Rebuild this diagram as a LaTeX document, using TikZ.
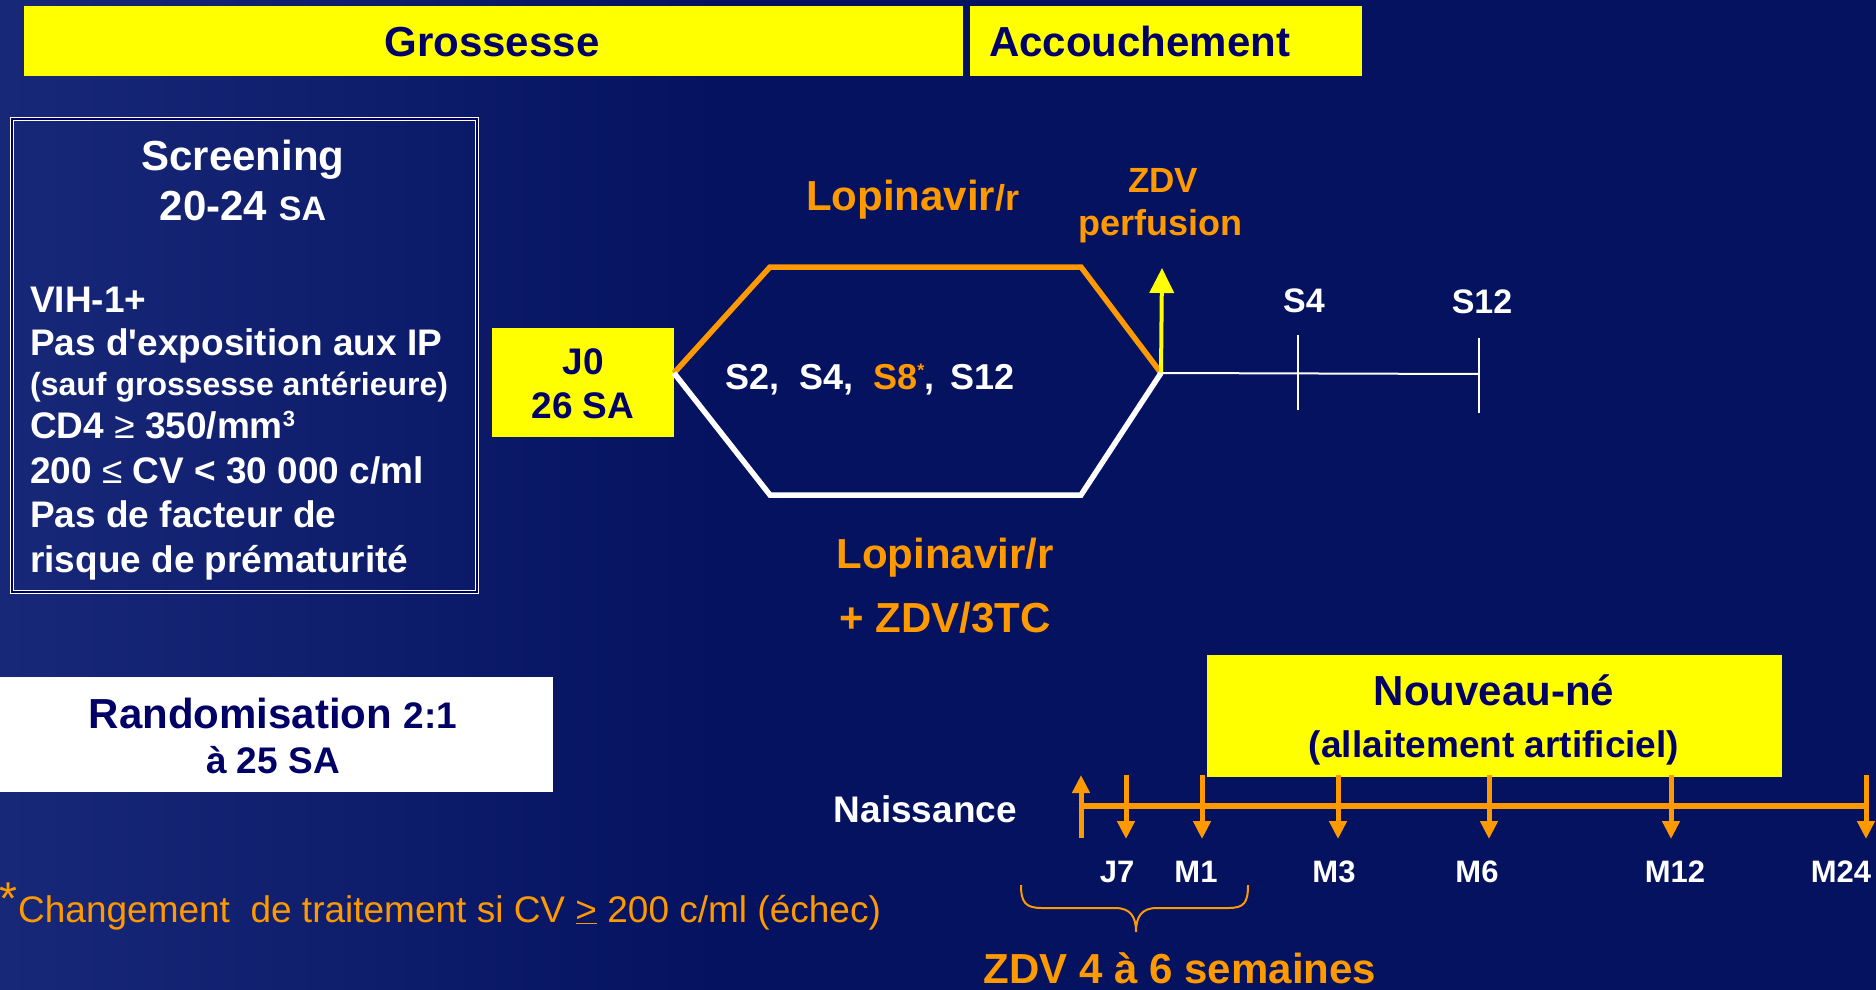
\documentclass[tikz,border=0pt]{standalone}
\usepackage{fontspec}
\setmainfont{Liberation Sans}[Ligatures=TeXOff]
\usetikzlibrary{arrows.meta}
\definecolor{bg}{RGB}{4,18,96}
\definecolor{bgl}{RGB}{24,40,120}
\definecolor{navy}{RGB}{0,0,102}
\definecolor{scrfill}{RGB}{0,0,100}
\definecolor{yel}{RGB}{255,255,0}
\definecolor{org}{RGB}{255,153,0}
\newcommand\myfs[1]{\fontsize{#1}{#1}\selectfont}
\begin{document}
\begin{tikzpicture}[x=1pt,y=-1pt,
  txt/.style={inner sep=0pt, font=\bfseries, text=white},
  ybox/.style={fill=yel, inner sep=0pt, anchor=north west},
  tl/.style={org, line width=6pt},
  tlarrow/.style={org, line width=5pt, -{Triangle[width=17pt,length=18pt]}},
  tick/.style={white, line width=2pt},
  arm/.style={line width=5.5pt, line join=miter}]
\fill[bg] (0,0) rectangle (1876,990);
\useasboundingbox (0,0) rectangle (1876,990);
\fill[left color=bgl, right color=bg] (0,0) rectangle (720,990);

% top bars
\node[ybox, minimum width=939pt, minimum height=70pt] (gro) at (24,6) {};
\node[ybox, minimum width=392pt, minimum height=70pt] (acc) at (970,6) {};
\node[txt, text=navy, anchor=base] (grot) at (492,57) {\myfs{42}Grossesse};
\node[txt, text=navy, anchor=base west] (acct) at (989,57) {\myfs{42}Accouchement};

% screening box
\node[draw=white, double=scrfill, double distance=2pt, line width=1pt,
  minimum width=465pt, minimum height=473pt, anchor=north west, inner sep=0pt] (scr) at (11,118) {};
\node[txt, anchor=base] (scr1) at (243,170) {\myfs{42}Screening};
\node[txt, anchor=base] (scr2) at (243,220) {\myfs{42}20-24 {\myfs{34}SA}};
\node[txt, anchor=base west] (l1) at (30,312) {\myfs{37}VIH-1+};
\node[txt, anchor=base west] (l2) at (30,355) {\myfs{37}Pas d'exposition aux IP};
\node[txt, anchor=base west] (l3) at (30,395) {\myfs{32}(sauf grossesse antérieure)};
\node[txt, anchor=base west] (l4) at (30,438) {\myfs{37}CD4 {\mdseries ≥} 350/mm\raisebox{12pt}{\myfs{22}3}};
\node[txt, anchor=base west] (l5) at (30,483) {\myfs{37}200 {\mdseries ≤} CV < 30 000 c/ml};
\node[txt, anchor=base west] (l6) at (30,527) {\myfs{37}Pas de facteur de};
\node[txt, anchor=base west] (l7) at (30,572) {\myfs{37}risque de prématurité};

% randomisation
\node[fill=white, inner sep=0pt, anchor=north west, minimum width=553pt, minimum height=115pt] (rnd) at (0,677) {};
\node[txt, text=navy, anchor=base] (rnd1) at (273,728) {\myfs{42}Randomisation {\myfs{37}2:1}};
\node[txt, text=navy, anchor=base] (rnd2) at (273,773) {\myfs{37}à 25 SA};

% footnote
\node[inner sep=0pt, text=org, anchor=base west] (star) at (-1,914) {\myfs{46}*};
\node[inner sep=0pt, text=org, anchor=base west] (foot) at (18,922) {\myfs{37}Changement\ \ de traitement si CV \underline{>} 200 c/ml (échec)};

% J0 box
\node[ybox, minimum width=182pt, minimum height=109pt] (j0) at (492,328) {};
\node[txt, text=navy, anchor=base] (j0a) at (583,374) {\myfs{37}J0};
\node[txt, text=navy, anchor=base] (j0b) at (583,418) {\myfs{37}26 SA};

% hexagon
\coordinate (lv) at (674,373);
\coordinate (tl1) at (770,267);
\coordinate (tr1) at (1081,267);
\coordinate (rv) at (1161,373);
\coordinate (bl1) at (770,495);
\coordinate (br1) at (1081,495);
\draw[arm, org] (lv) -- (tl1) -- (tr1) -- (rv);
\draw[arm, white] (lv) -- (bl1) -- (br1) -- (rv);

\node[txt, anchor=base west] (sv) at (725,389) {\myfs{36}S2,\ \ S4,\ \ \textcolor{org}{S8\raisebox{13pt}{\myfs{18}*}}, \,S12};

\node[txt, text=org, anchor=base west] (lop1) at (806,210) {\myfs{42}Lopinavir{\myfs{36}/r}};
\node[txt, text=org, anchor=base] (lop2) at (945,568) {\myfs{42}Lopinavir/r};
\node[txt, text=org, anchor=base] (lop3) at (945,632) {\myfs{42}+ ZDV/3TC};

\node[txt, text=org, anchor=base] (zdv1) at (1163,192) {\myfs{35}ZDV};
\node[txt, text=org, anchor=base] (zdv2) at (1160,235) {\myfs{36}perfusion};

% yellow arrow
\coordinate (ytip) at (1162,268);
\draw[yel, line width=4pt, -{Triangle[width=24pt,length=25pt]}] (rv) -- (ytip);

% follow-up line
\coordinate (s4) at (1298,374);
\coordinate (s12) at (1479,374);
\draw[tick] (rv) -- (s12);
\draw[tick] (1298,335) -- (1298,410);
\draw[tick] (1479,338) -- (1479,413);
\node[txt, anchor=base] (s4t) at (1304,312) {\myfs{34}S4};
\node[txt, anchor=base] (s12t) at (1482,313) {\myfs{34}S12};

% newborn
\node[ybox, minimum width=575pt, minimum height=122pt] (nn) at (1207,655) {};
\node[txt, text=navy, anchor=base] (nn1) at (1494,705) {\myfs{42}Nouveau-né};
\node[txt, text=navy, anchor=base] (nn2) at (1494,757) {\myfs{37}(allaitement artificiel)};

\node[txt, anchor=base east] (nais) at (1017,822) {\myfs{37}Naissance};

\coordinate (t0) at (1080,806);
\coordinate (t1) at (1868,806);
\draw[tl] (t0) -- (t1);
\draw[tlarrow] (1081,838) -- (1081,775);
\foreach \xx/\nm in {1126/J7, 1202/M1, 1338/M3, 1489/M6, 1671/M12, 1866/M24}{
  \draw[tlarrow] (\xx,775) -- (\xx,839);
}
\node[txt, anchor=base] (lj7) at (1117,882) {\myfs{31}J7};
\node[txt, anchor=base] (lm1) at (1196,882) {\myfs{31}M1};
\node[txt, anchor=base] (lm3) at (1334,882) {\myfs{31}M3};
\node[txt, anchor=base] (lm6) at (1477,882) {\myfs{31}M6};
\node[txt, anchor=base] (lm12) at (1675,882) {\myfs{31}M12};
\node[txt, anchor=base] (lm24) at (1841,882) {\myfs{31}M24};

% brace
\coordinate (bra) at (1021,885);
\coordinate (brtip) at (1136,932);
\coordinate (brb) at (1248,885);
\draw[org, line width=2pt] (bra) .. controls (1021,903) and (1026,908) .. (1042,908) -- (1115,908)
  .. controls (1130,908) and (1136,916) .. (brtip)
  .. controls (1136,916) and (1142,908) .. (1157,908) -- (1228,908)
  .. controls (1244,908) and (1248,903) .. (brb);
\node[txt, text=org, anchor=base] (zdvs) at (1180,983) {\myfs{42}ZDV 4 à 6 semaines};
\end{tikzpicture}
\end{document}
